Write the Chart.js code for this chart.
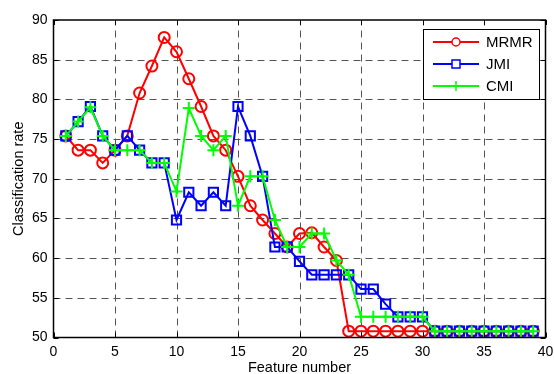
<!DOCTYPE html>
<html>
<head>
<meta charset="utf-8">
<script src="https://cdn.jsdelivr.net/npm/chart.js@4.4.0/dist/chart.umd.min.js"></script>
<style>
  html, body { margin: 0; padding: 0; background: #fff; }
  #wrap { width: 554px; height: 374px; }
</style>
</head>
<body>
<div id="wrap"><canvas id="grafico"></canvas></div>
<script>
// numero de features selecionadas
const features = [];
for (let i = 1; i <= 39; i++) features.push(i);

const mrmr = [75.4, 73.6, 73.6, 72.0, 73.6, 75.4, 80.8, 84.2, 87.8, 86.0,
              82.6, 79.1, 75.4, 73.6, 70.3, 66.6, 64.8, 63.1, 61.4, 63.1,
              63.2, 61.4, 59.7, 50.8, 50.8, 50.8, 50.8, 50.8, 50.8, 50.8,
              50.8, 50.8, 50.8, 50.8, 50.8, 50.8, 50.8, 50.8, 50.8];
const jmi  = [75.4, 77.2, 79.1, 75.4, 73.6, 75.4, 73.6, 72.0, 72.0, 64.8,
              68.3, 66.6, 68.3, 66.6, 79.1, 75.4, 70.3, 61.4, 61.4, 59.6,
              57.9, 57.9, 57.9, 57.9, 56.1, 56.1, 54.2, 52.6, 52.6, 52.6,
              50.8, 50.8, 50.8, 50.8, 50.8, 50.8, 50.8, 50.8, 50.8];
const cmi  = [75.4, 77.2, 79.0, 75.4, 73.6, 73.6, 73.6, 72.0, 72.0, 68.4,
              78.9, 75.4, 73.6, 75.4, 66.6, 70.3, 70.3, 64.8, 61.4, 61.4,
              63.1, 63.1, 59.7, 57.9, 52.6, 52.6, 52.6, 52.6, 52.6, 52.6,
              50.8, 50.8, 50.8, 50.8, 50.8, 50.8, 50.8, 50.8, 50.8];

const nomesSeries = ['MRMR', 'JMI', 'CMI'];
const ticksX = [0, 5, 10, 15, 20, 25, 30, 35, 40];
const ticksY = [50, 55, 60, 65, 70, 75, 80, 85, 90];

const fonte = 'Liberation Sans, Arial, sans-serif';

function pontos(valores) {
    return valores.map((v, i) => ({ x: features[i], y: v }));
}

// grade tracejada estilo matlab
const grade = {
    id: 'grade',
    beforeDatasetsDraw(chart) {
        const ctx = chart.ctx;
        const a = chart.chartArea;
        const sx = chart.scales.x, sy = chart.scales.y;
        ctx.save();
        ctx.strokeStyle = '#555';
        ctx.lineWidth = 1;
        ctx.setLineDash([7, 5]);
        ticksX.slice(1, -1).forEach(v => {
            const px = Math.round(sx.getPixelForValue(v)) + 0.5;
            ctx.beginPath();
            ctx.moveTo(px, a.bottom);
            ctx.lineTo(px, a.top);
            ctx.stroke();
        });
        ticksY.slice(1, -1).forEach(v => {
            const py = Math.round(sy.getPixelForValue(v)) + 0.5;
            ctx.beginPath();
            ctx.moveTo(a.left, py);
            ctx.lineTo(a.right, py);
            ctx.stroke();
        });
        ctx.restore();
    }
};

// moldura + legenda estilo matlab
const molduraLegenda = {
    id: 'molduraLegenda',
    afterDraw(chart) {
        const ctx = chart.ctx;
        const a = chart.chartArea;
        const sx = chart.scales.x, sy = chart.scales.y;
        ctx.save();
        ctx.strokeStyle = '#000';
        ctx.lineWidth = 1.5;
        ctx.setLineDash([]);
        ctx.strokeRect(a.left, a.top, a.right - a.left, a.bottom - a.top);

        // tracinhos internos
        ctx.lineWidth = 1;
        ctx.beginPath();
        ticksX.forEach(v => {
            const px = Math.round(sx.getPixelForValue(v)) + 0.5;
            ctx.moveTo(px, a.bottom); ctx.lineTo(px, a.bottom - 5);
            ctx.moveTo(px, a.top); ctx.lineTo(px, a.top + 5);
        });
        ticksY.forEach(v => {
            const py = Math.round(sy.getPixelForValue(v)) + 0.5;
            ctx.moveTo(a.left, py); ctx.lineTo(a.left + 5, py);
            ctx.moveTo(a.right, py); ctx.lineTo(a.right - 5, py);
        });
        ctx.stroke();

        // legenda
        const bx = 423, by = 29, bw = 116, bh = 70;
        ctx.fillStyle = '#fff';
        ctx.fillRect(bx, by, bw, bh);
        ctx.strokeRect(bx + 0.5, by + 0.5, bw, bh);
        chart.data.datasets.forEach((ds, i) => {
            const y = by + 13 + i * 22;
            ctx.strokeStyle = ds.borderColor;
            ctx.lineWidth = 2;
            ctx.beginPath();
            ctx.moveTo(433, y);
            ctx.lineTo(479, y);
            ctx.stroke();
            ctx.lineWidth = 1.5;
            const mx = 456;
            if (ds.pointStyle === 'circle') {
                ctx.beginPath();
                ctx.arc(mx, y, 4, 0, Math.PI * 2);
                ctx.fillStyle = '#fff';
                ctx.fill();
                ctx.stroke();
            } else if (ds.pointStyle === 'rect') {
                ctx.fillStyle = '#fff';
                ctx.fillRect(mx - 4, y - 4, 8, 8);
                ctx.strokeRect(mx - 4, y - 4, 8, 8);
            } else {
                ctx.beginPath();
                ctx.moveTo(mx - 5, y); ctx.lineTo(mx + 5, y);
                ctx.moveTo(mx, y - 5); ctx.lineTo(mx, y + 5);
                ctx.stroke();
            }
            ctx.fillStyle = '#000';
            ctx.font = '15px ' + fonte;
            ctx.textBaseline = 'middle';
            ctx.textAlign = 'left';
            ctx.fillText(ds.label, 486, y + 1);
        });
        ctx.restore();
    }
};

const ctx = document.getElementById('grafico').getContext('2d');
const grafico = new Chart(ctx, {
    type: 'line',
    data: {
        datasets: [
            {
                label: nomesSeries[0],
                data: pontos(mrmr),
                borderColor: '#ff0000',
                backgroundColor: 'rgba(255,255,255,0)',
                borderWidth: 2,
                pointStyle: 'circle',
                pointRadius: 5.5,
                pointBorderWidth: 2,
                order: 2
            },
            {
                label: nomesSeries[1],
                data: pontos(jmi),
                borderColor: '#0000ff',
                backgroundColor: 'rgba(255,255,255,0)',
                borderWidth: 2,
                pointStyle: 'rect',
                pointRadius: 6.5,
                pointBorderWidth: 2,
                order: 1
            },
            {
                label: nomesSeries[2],
                data: pontos(cmi),
                borderColor: '#00ff00',
                backgroundColor: '#00ff00',
                borderWidth: 2,
                pointStyle: 'cross',
                pointRadius: 6,
                pointBorderWidth: 2,
                order: 0
            }
        ]
    },
    options: {
        responsive: true,
        maintainAspectRatio: false,
        animation: false,
        layout: { padding: { left: 0, right: 8, top: 20, bottom: 0 } },
        plugins: {
            legend: { display: false },
            tooltip: { enabled: false }
        },
        scales: {
            x: {
                type: 'linear',
                min: 0,
                max: 40,
                afterBuildTicks: s => { s.ticks = ticksX.map(v => ({ value: v })); },
                afterFit: s => { s.height = 36.5; s.paddingLeft = 0; s.paddingRight = 0; },
                grid: { display: false, drawTicks: false },
                border: { display: false },
                ticks: {
                    color: '#000',
                    font: { family: fonte, size: 14 },
                    padding: 6,
                    maxRotation: 0
                },
                title: {
                    display: true,
                    text: 'Feature number',
                    color: '#000',
                    font: { family: fonte, size: 14.5 },
                    padding: { top: 0, bottom: -2.5 }
                }
            },
            y: {
                min: 50,
                max: 90,
                afterBuildTicks: s => { s.ticks = ticksY.map(v => ({ value: v })); },
                afterFit: s => { s.width = 53.5; s.paddingTop = 0; s.paddingBottom = 0; },
                grid: { display: false, drawTicks: false },
                border: { display: false },
                ticks: {
                    color: '#000',
                    font: { family: fonte, size: 14 },
                    padding: 6
                },
                title: {
                    display: true,
                    text: 'Classification rate',
                    color: '#000',
                    font: { family: fonte, size: 14.5 },
                    padding: { top: 10, bottom: 0 }
                }
            }
        }
    },
    plugins: [grade, molduraLegenda]
});
</script>
</body>
</html>
